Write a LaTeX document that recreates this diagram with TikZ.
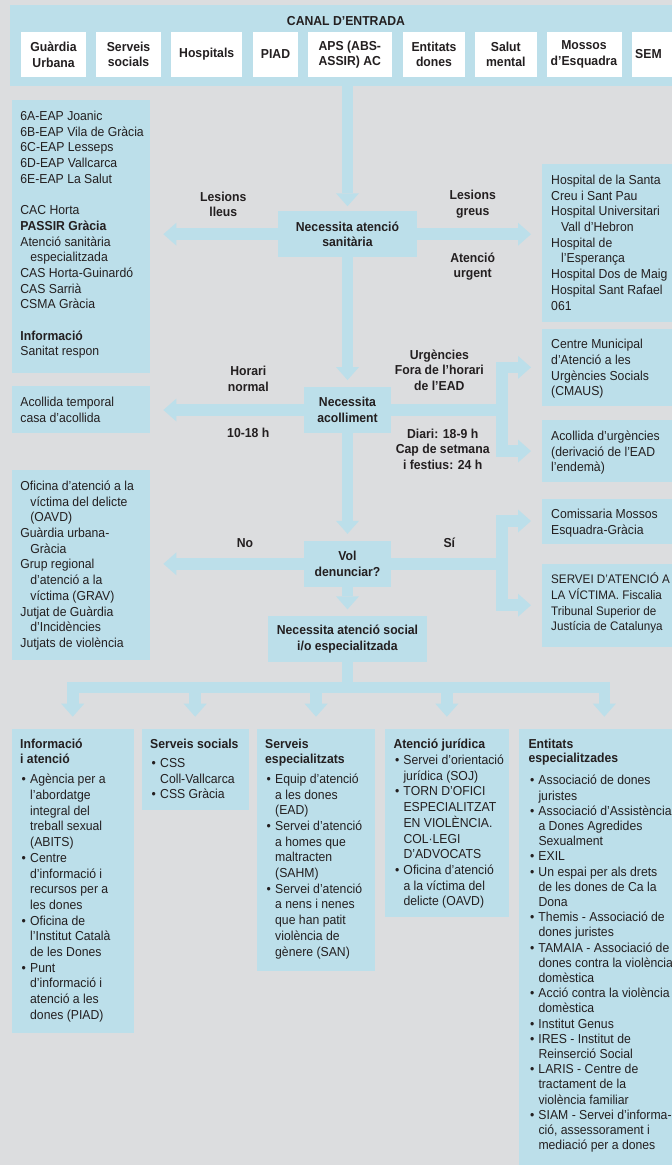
\documentclass[tikz,border=0pt]{standalone}
\usepackage{fontspec}
\setmainfont{Liberation Sans}[FakeStretch=0.94]
\usetikzlibrary{arrows.meta,positioning}
\definecolor{fons}{RGB}{220,221,223}
\definecolor{blau}{RGB}{188,223,234}
\definecolor{tinta}{RGB}{35,31,32}
\newcommand{\lletra}{\fontsize{13}{15.7}\selectfont}
\newcommand{\bala}{\hspace*{1.5pt}\makebox[8.5pt][l]{\textbullet}}
\newcommand{\sagn}{\hspace*{10pt}}
\tikzset{
    caixa/.style={fill=blau, inner sep=0pt, anchor=north west}, % 蓝色面板
    entrada/.style={fill=white, minimum height=45.6pt, inner sep=0pt, align=center, font=\bfseries\lletra}, % 入口小框
    pas/.style={fill=blau, minimum height=45.5pt, inner sep=0pt, align=center, font=\bfseries\lletra}, % 判断框
    etiq/.style={align=center, inner sep=0pt, font=\bfseries\lletra}, % 箭头旁的说明
    llista/.style={align=left, inner sep=0pt, anchor=north west, font=\lletra}, % 面板里的文字
    tronc/.style={draw=blau, line width=11.7pt}, % 粗连线
    fletxa/.style={tronc, -{Triangle[width=23pt,length=13pt,line width=0pt]}} % 粗箭头
}

\begin{document}
\begin{tikzpicture}[x=1pt, y=-1pt, text=tinta]
            \def\W{672} \def\H{1165}
            \useasboundingbox (0,0) rectangle (\W,\H);
            \fill[fons] (0,0) rectangle (\W,\H);
            \clip (0,0) rectangle (\W,\H);

            % canal d'entrada
            \node[caixa, minimum width=674pt, minimum height=81pt] (canal) at (10,5) {};
            \node[etiq] (titol) at (346,21) {CANAL D’ENTRADA};
            \foreach \xa/\xb/\nom [count=\i] in {21.4/85.7/{Guàrdia\\Urbana}, 96.4/160.7/{Serveis\\socials}, 171.4/242/{Hospitals}, 253/298/{PIAD}, 307.7/392/{APS (ABS-\\ASSIR) AC}, 403/465/{Entitats\\dones}, 475/536.6/{Salut\\mental}, 546.5/621.5/{Mossos\\d’Esquadra}} {\node[entrada, minimum width={\xb-\xa}] (e\i) at ({(\xa+\xb)/2},54.5) {\nom};}
            \node[entrada, anchor=west, minimum width=68pt, text width=62pt, align=left] (e9) at (632,54.5) {SEM};

            % passos centrals
            \node[pas, minimum width=139.4pt] (n1) at (347.5,234.2) {Necessita atenció\\sanitària};
            \node[pas, minimum width=86.7pt] (n2) at (347.5,410) {Necessita\\acolliment};
            \node[pas, minimum width=86.7pt] (n3) at (347.5,563.8) {Vol\\denunciar?};
            \node[pas, minimum width=158.4pt] (n4) at (347.5,638.8) {Necessita atenció social\\i/o especialitzada};

            % panells esquerra i dreta
            \node[caixa, minimum width=138.3pt, minimum height=272.7pt] (sanit) at (11.7,100) {};
            \node[caixa, minimum width=138.3pt, minimum height=46.7pt] (temp) at (11.7,386) {};
            \node[caixa, minimum width=138.3pt, minimum height=190pt] (denun) at (11.7,470) {};
            \node[caixa, minimum width=160pt, minimum height=157.7pt] (hosp) at (542,164) {};
            \node[caixa, minimum width=160pt, minimum height=77.7pt] (cmaus) at (542,328.3) {};
            \node[caixa, minimum width=160pt, minimum height=61.7pt] (acurg) at (542,420) {};
            \node[caixa, minimum width=160pt, minimum height=45pt] (comis) at (542,498.3) {};
            \node[caixa, minimum width=160pt, minimum height=83.4pt] (servei) at (542,563.3) {};

            \node[llista] (sanit-t) at ([shift={(8.5,9.3)}]sanit.north west) {\strut 6A-EAP Joanic\\6B-EAP Vila de Gràcia\\6C-EAP Lesseps\\6D-EAP Vallcarca\\6E-EAP La Salut\\[15.7pt]CAC Horta\\\textbf{PASSIR Gràcia}\\Atenció sanitària\\\sagn especialitzada\\CAS Horta-Guinardó\\CAS Sarrià\\CSMA Gràcia\\[15.7pt]\textbf{Informació}\\Sanitat respon};
            \node[llista] (temp-t) at ([shift={(8.5,9.3)}]temp.north west) {\strut Acollida temporal\\casa d’acollida};
            \node[llista] (denun-t) at ([shift={(8.5,9.3)}]denun.north west) {\strut Oficina d’atenció a la\\\sagn víctima del delicte\\\sagn (OAVD)\\Guàrdia urbana-\\\sagn Gràcia\\Grup regional\\\sagn d’atenció a la\\\sagn víctima (GRAV)\\Jutjat de Guàrdia\\\sagn d’Incidències\\Jutjats de violència};
            \node[llista] (hosp-t) at ([shift={(9,9.3)}]hosp.north west) {\strut Hospital de la Santa\\Creu i Sant Pau\\Hospital Universitari\\\sagn Vall d’Hebron\\Hospital de\\\sagn l’Esperança\\Hospital Dos de Maig\\Hospital Sant Rafael\\061};
            \node[llista] (cmaus-t) at ([shift={(9,9.3)}]cmaus.north west) {\strut Centre Municipal\\d’Atenció a les\\Urgències Socials\\(CMAUS)};
            \node[llista] (acurg-t) at ([shift={(9,9.3)}]acurg.north west) {\strut Acollida d’urgències\\(derivació de l’EAD\\l’endemà)};
            \node[llista] (comis-t) at ([shift={(9,9.3)}]comis.north west) {\strut Comissaria Mossos\\Esquadra-Gràcia};
            \node[llista, font=\fontsize{12.4}{15.7}\selectfont] (servei-t) at ([shift={(9,9.3)}]servei.north west) {\strut SERVEI D’ATENCIÓ A\\LA VÍCTIMA. Fiscalia\\Tribunal Superior de\\Justícia de Catalunya};

            % fletxes
            \draw[fletxa, shorten >=5pt] (canal.south -| n1.north) -- (n1.north);
            \draw[fletxa, shorten >=7pt] (n1.south) -- (n2.north);
            \draw[fletxa, shorten >=7pt] (n2.south) -- (n3.north);
            \draw[fletxa, shorten >=6.5pt] (n3.south) -- (n4.north);
            \draw[fletxa, shorten >=13pt] (n1.west) -- (n1.west -| sanit.east);
            \draw[fletxa, shorten >=11pt] (n1.east) -- (n1.east -| hosp.west);
            \draw[fletxa, shorten >=13pt] (n2.west) -- (n2.west -| temp.east);
            \draw[fletxa, shorten >=13pt] (n3.west) -- (n3.west -| denun.east);
            \path (n2.east) ++(110.8,0) coordinate (j2);
            \path (n3.east) ++(110.8,0) coordinate (j3);
            \draw[tronc] (n2.east) -- (j2);
            \draw[fletxa, shorten >=11pt] (j2) |- (cmaus.west);
            \draw[fletxa, shorten >=11pt] (j2) |- (acurg.west);
            \draw[tronc] (n3.east) -- (j3);
            \draw[fletxa, shorten >=11pt] (j3) |- (comis.west);
            \draw[fletxa, shorten >=11pt] (j3) |- (servei.west);

            \node[etiq] (lleus) at (223.3,204.2) {Lesions\\lleus};
            \node[etiq] (greus) at (472.7,204.2) {Lesions\\greus};
            \node[etiq] (urgent) at (472.7,266.7) {Atenció\\urgent};
            \node[etiq] (horari) at (248.3,378.8) {Horari\\normal};
            \node[etiq] (hores) at (248.3,433.3) {10-18 h};
            \node[etiq] (fora) at (439.3,370) {Urgències\\Fora de l’horari\\de l’EAD};
            \node[etiq] (diari) at (442.7,449.3) {Diari: 18-9 h\\Cap de setmana\\i festius: 24 h};
            \node[etiq] (no) at (245,543.3) {No};
            \node[etiq] (si) at (449.3,542.7) {Sí};

            % recursos
            \node[caixa, minimum width=121.6pt, minimum height=304pt] (info) at (11.7,728.3) {};
            \node[caixa, minimum width=106.6pt, minimum height=81.7pt] (ssoc) at (141.7,728.3) {};
            \node[caixa, minimum width=118.3pt, minimum height=242.4pt] (sesp) at (256.7,728.3) {};
            \node[caixa, minimum width=123.3pt, minimum height=188.4pt] (jur) at (385,728.3) {};
            \node[caixa, minimum width=171.7pt, minimum height=460pt] (ent) at (518.3,728.3) {};

            \coordinate (repart) at (347.5,687.5);
            \draw[tronc] (n4.south) -- (repart);
            \draw[tronc, line cap=rect] (info.north |- repart) -- (ent.north |- repart);
            \foreach \b in {info,ssoc,sesp,jur,ent} {\draw[fletxa, shorten >=11.6pt] (\b.north |- repart) -- (\b.north);}

            \node[llista] (info-t) at ([shift={(8.3,9.3)}]info.north west) {\strut\textbf{Informació}\\[-1.4pt]\textbf{i atenció}\\[5pt]\bala Agència per a\\\sagn l’abordatge\\\sagn integral del\\\sagn treball sexual\\\sagn (ABITS)\\\bala Centre\\\sagn d’informació i\\\sagn recursos per a\\\sagn les dones\\\bala Oficina de\\\sagn l’Institut Català\\\sagn de les Dones\\\bala Punt\\\sagn d’informació i\\\sagn atenció a les\\\sagn dones (PIAD)};
            \node[llista] (ssoc-t) at ([shift={(8.3,9.3)}]ssoc.north west) {\strut\textbf{Serveis socials}\\[3pt]\bala CSS\\\sagn Coll-Vallcarca\\\bala CSS Gràcia};
            \node[llista] (sesp-t) at ([shift={(8.3,9.3)}]sesp.north west) {\strut\textbf{Serveis}\\[-1.4pt]\textbf{especialitzats}\\[4.5pt]\bala Equip d’atenció\\\sagn a les dones\\\sagn (EAD)\\\bala Servei d’atenció\\\sagn a homes que\\\sagn maltracten\\\sagn (SAHM)\\\bala Servei d’atenció\\\sagn a nens i nenes\\\sagn que han patit\\\sagn violència de\\\sagn gènere (SAN)};
            \node[llista] (jur-t) at ([shift={(8.3,9.3)}]jur.north west) {\strut\textbf{Atenció jurídica}\\\bala Servei d’orientació\\\sagn jurídica (SOJ)\\\bala TORN D’OFICI\\\sagn ESPECIALITZAT\\\sagn EN VIOLÈNCIA.\\\sagn COL·LEGI\\\sagn D’ADVOCATS\\\bala Oficina d’atenció\\\sagn a la víctima del\\\sagn delicte (OAVD)};
            \node[llista, font=\fontsize{13}{15.2}\selectfont] (ent-t) at ([shift={(10,9.3)}]ent.north west) {\strut\textbf{Entitats}\\[-0.9pt]\textbf{especialitzades}\\[7pt]\bala Associació de dones\\\sagn juristes\\\bala Associació d’Assistència\\\sagn a Dones Agredides\\\sagn Sexualment\\\bala EXIL\\\bala Un espai per als drets\\\sagn de les dones de Ca la\\\sagn Dona\\\bala Themis - Associació de\\\sagn dones juristes\\\bala TAMAIA - Associació de\\\sagn dones contra la violència\\\sagn domèstica\\\bala Acció contra la violència\\\sagn domèstica\\\bala Institut Genus\\\bala IRES - Institut de\\\sagn Reinserció Social\\\bala LARIS - Centre de\\\sagn tractament de la\\\sagn violència familiar\\\bala SIAM - Servei d’informa-\\\sagn ció, assessorament i\\\sagn mediació per a dones};
        \end{tikzpicture}
\end{document}
